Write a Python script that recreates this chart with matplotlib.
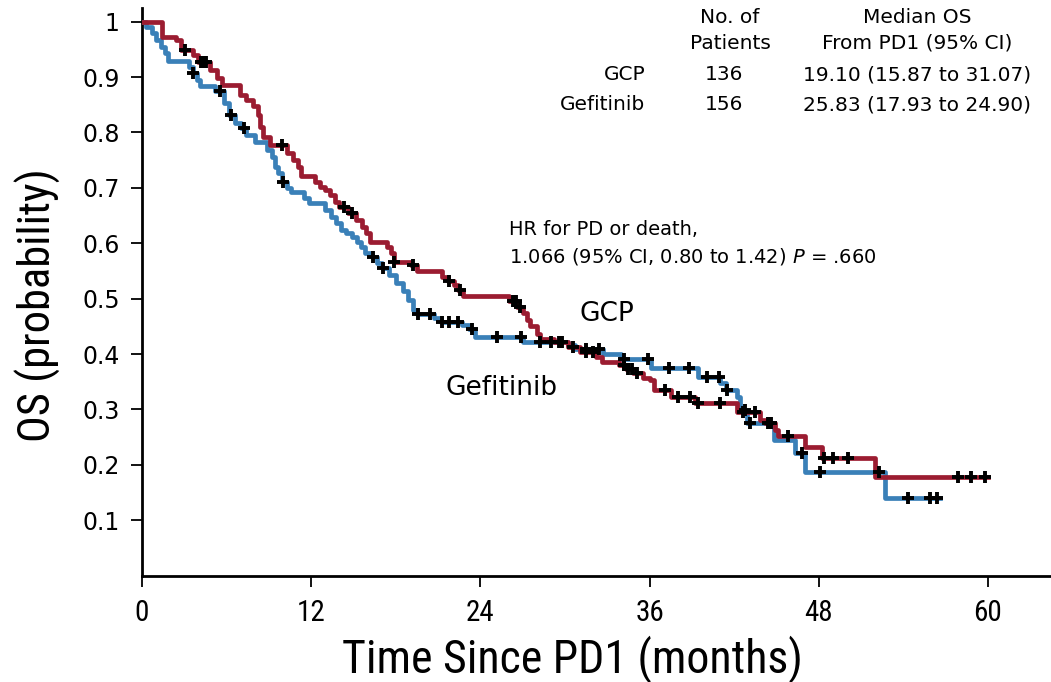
import numpy as np
import matplotlib
matplotlib.use('Agg')
import matplotlib.pyplot as plt

# GCP arm: step times (months) and survival after each step
gcp_time = [0, 1.4, 2.4, 2.8, 3.6, 4.0, 4.8, 5.3, 5.7, 6.95, 7.4, 7.9, 8.2, 8.4, 8.6, 9.1,
            10.3, 10.7, 11.1, 11.3, 12.3, 12.6, 13.0, 13.3, 13.7, 14.0, 14.6, 15.2, 15.6,
            15.9, 16.2, 17.4, 17.65, 17.85, 19.1, 19.5, 21.3, 21.7, 22.1, 22.4, 22.75, 26.0,
            26.6, 27.0, 27.3, 27.5, 28.0, 28.2, 29.2, 30.2, 31.1, 32.2, 32.6, 33.8, 34.3,
            34.8, 35.5, 36.0, 36.3, 37.5, 39.2, 42.2, 43.8, 44.2, 44.9, 45.1, 47.0, 48.2, 52.0]
gcp_surv = [1.0, 0.973, 0.967, 0.949, 0.94, 0.928, 0.913, 0.898, 0.886, 0.868, 0.859, 0.847,
            0.832, 0.81, 0.792, 0.777, 0.763, 0.75, 0.738, 0.721, 0.711, 0.702, 0.696, 0.687,
            0.675, 0.666, 0.654, 0.642, 0.63, 0.618, 0.603, 0.594, 0.582, 0.567, 0.561, 0.55,
            0.54, 0.531, 0.525, 0.516, 0.505, 0.495, 0.485, 0.474, 0.462, 0.45, 0.437, 0.428,
            0.422, 0.413, 0.404, 0.395, 0.386, 0.38, 0.373, 0.365, 0.356, 0.353, 0.335, 0.323,
            0.311, 0.296, 0.281, 0.275, 0.263, 0.252, 0.233, 0.212, 0.179]
gcp_censor = [3.05, 4.15, 4.35, 4.55, 9.9, 14.3, 14.9, 17.9, 19.2, 21.8, 22.55, 26.3, 26.5,
              26.8, 29.6, 30.6, 31.5, 32.0, 34.2, 34.5, 34.75, 35.1, 37.1, 38.0, 38.9, 39.4,
              41.0, 42.6, 43.5, 44.4, 45.8, 48.4, 49.0, 50.1, 57.9, 58.8, 59.8]
gcp_end = 60.0

# Gefitinib arm
gef_time = [0, 0.3, 0.7, 1.0, 1.35, 1.6, 1.85, 3.35, 3.6, 3.9, 4.1, 5.2, 5.8, 6.2, 6.6, 7.0,
            7.4, 8.0, 8.9, 9.2, 9.43, 9.67, 9.9, 10.3, 10.55, 11.5, 11.85, 13.0, 13.4, 13.75,
            14.1, 14.45, 14.9, 15.25, 15.55, 15.85, 16.3, 16.7, 17.0, 17.5, 18.0, 18.5, 18.85,
            19.2, 19.5, 20.7, 21.2, 22.7, 23.2, 23.6, 27.0, 30.2, 30.7, 32.7, 34.0, 36.1, 39.4,
            41.0, 41.4, 42.2, 42.4, 42.9, 44.85, 46.3, 47.0, 52.7]
gef_surv = [1.0, 0.991, 0.979, 0.967, 0.955, 0.943, 0.929, 0.919, 0.907, 0.895, 0.884, 0.874,
            0.853, 0.832, 0.817, 0.808, 0.795, 0.783, 0.768, 0.756, 0.738, 0.726, 0.711, 0.699,
            0.693, 0.681, 0.672, 0.66, 0.648, 0.636, 0.624, 0.618, 0.612, 0.603, 0.594, 0.582,
            0.575, 0.565, 0.555, 0.543, 0.528, 0.513, 0.498, 0.48, 0.472, 0.465, 0.458, 0.452,
            0.446, 0.431, 0.422, 0.416, 0.41, 0.401, 0.392, 0.374, 0.359, 0.347, 0.335, 0.323,
            0.299, 0.275, 0.245, 0.221, 0.188, 0.14]
gef_censor = [3.65, 5.5, 6.3, 7.2, 10.0, 16.4, 17.1, 19.6, 20.4, 21.3, 21.8, 22.4, 23.4, 25.2,
              26.9, 28.2, 29.0, 29.8, 31.5, 32.4, 34.2, 35.9, 37.4, 38.8, 40.1, 40.9, 41.5,
              42.8, 43.1, 44.6, 46.8, 48.1, 52.3, 54.3, 55.9, 56.4]
gef_end = 56.6

x_ticks = [0, 12, 24, 36, 48, 60]
y_ticks = [0.1, 0.2, 0.3, 0.4, 0.5, 0.6, 0.7, 0.8, 0.9, 1.0]
y_ticklabels = ['0.1', '0.2', '0.3', '0.4', '0.5', '0.6', '0.7', '0.8', '0.9', '1']

table_arms = ['GCP', 'Gefitinib']
table_n = ['136', '156']
table_median = ['19.10 (15.87 to 31.07)', '25.83 (17.93 to 24.90)']

RED = '#9b1c31'
BLUE = '#3a80b8'
NARROW = ['Roboto Condensed', 'Archivo Narrow', 'PT Sans Narrow', 'DejaVu Sans']


def km_curve(ax, t, s, end, color):
    tt = list(t) + [end]
    ss = list(s) + [s[-1]]
    ax.step(tt, ss, where='post', color=color, lw=3.4, zorder=3)


def censor_marks(ax, t, s, cens):
    idx = np.searchsorted(t, cens, side='right') - 1
    y = np.array(s)[idx]
    ax.plot(cens, y, ls='none', marker='+', ms=9, mew=2.8, color='black', zorder=5)


fig = plt.figure(figsize=(10.51, 6.82), dpi=100)
ax = fig.add_axes([0.1351, 0.1559, 0.8649, 0.8324])
ax.set_xlim(0, 64.47)
ax.set_ylim(0, 1.0247)

km_curve(ax, gef_time, gef_surv, gef_end, BLUE)
km_curve(ax, gcp_time, gcp_surv, gcp_end, RED)
censor_marks(ax, gef_time, gef_surv, gef_censor)
censor_marks(ax, gcp_time, gcp_surv, gcp_censor)

# axes style
ax.spines[['top', 'right']].set_visible(False)
for side in ['left', 'bottom']:
    ax.spines[side].set_linewidth(2)
ax.set_xticks(x_ticks)
ax.set_yticks(y_ticks)
ax.set_yticklabels(y_ticklabels)
ax.tick_params(axis='both', direction='out', length=8, width=1.3, color='black')
ax.tick_params(axis='y', labelsize=17, pad=8)
ax.tick_params(axis='x', pad=9)
for lbl in ax.get_xticklabels():
    lbl.set_fontfamily(NARROW)
    lbl.set_fontsize(21)

ax.set_xlabel('Time Since PD1 (months)', fontsize=33, family=NARROW)
ax.xaxis.set_label_coords(0.473, -0.105)
ax.set_ylabel('OS (probability)', fontsize=32, family=NARROW)
ax.yaxis.set_label_coords(-0.089, 0.477)

# curve labels
ax.text(33.0, 0.472, 'GCP', fontsize=19, ha='center', va='center')
ax.text(25.5, 0.339, 'Gefitinib', fontsize=19, ha='center', va='center')

# hazard ratio note
ax.text(26.0, 0.624, 'HR for PD or death,', fontsize=14, ha='left', va='center')
ax.text(26.0, 0.577, '1.066 (95% CI, 0.80 to 1.42) $P$ = .660', fontsize=14,
        ha='left', va='center')

# summary table
ax.text(41.7, 1.008, 'No. of', fontsize=14.5, ha='center', va='center')
ax.text(41.7, 0.961, 'Patients', fontsize=14.5, ha='center', va='center')
ax.text(55.0, 1.008, 'Median OS', fontsize=14.5, ha='center', va='center')
ax.text(55.0, 0.961, 'From PD1 (95% CI)', fontsize=14.5, ha='center', va='center')
for i, arm in enumerate(table_arms):
    yy = 0.904 - i * 0.054
    ax.text(35.7, yy, arm, fontsize=14.5, ha='right', va='center')
    ax.text(41.3, yy, table_n[i], fontsize=14.5, ha='center', va='center')
    ax.text(55.0, yy, table_median[i], fontsize=14.5, ha='center', va='center')

fig.savefig('out.png', dpi=100)
